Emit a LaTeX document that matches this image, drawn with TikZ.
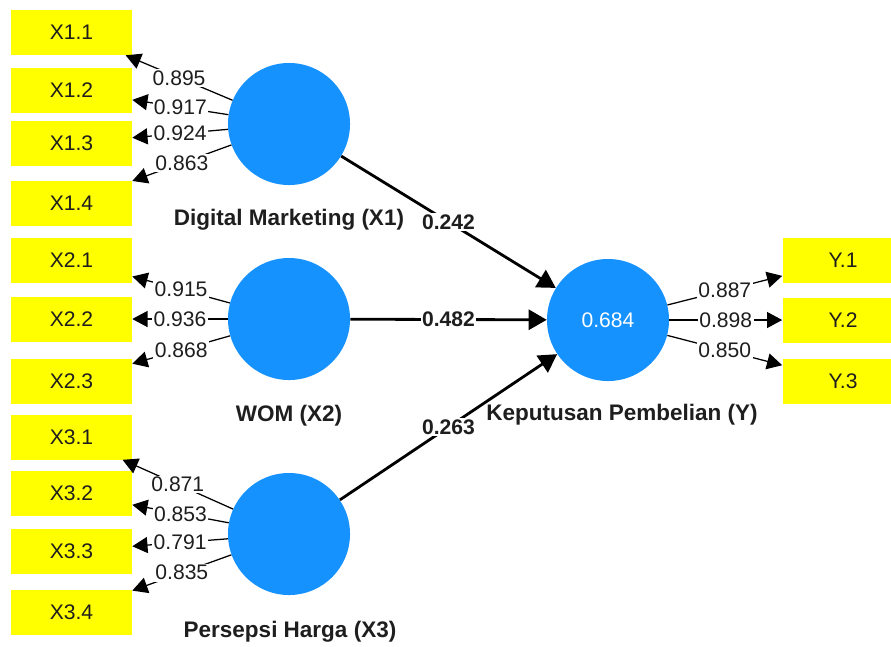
\documentclass[tikz,border=0pt]{standalone}
\usepackage{fontspec}
\setmainfont{Liberation Sans}
\usetikzlibrary{arrows.meta}

\definecolor{lvblue}{RGB}{22,146,255}
\definecolor{mvyellow}{RGB}{255,255,0}
\definecolor{txtdark}{RGB}{30,30,30}

\tikzset{
  lv/.style={circle, fill=lvblue, minimum size=3.05cm, inner sep=0pt, text=white},
  mv/.style={rectangle, fill=mvyellow, minimum width=3.025cm, minimum height=1.125cm, inner sep=0pt},
  lvname/.style={font=\fontsize{16}{19}\selectfont\bfseries},
  loading/.style={line width=0.9pt, -{Triangle[length=0.38cm,width=0.4cm]}},
  structpath/.style={line width=2pt, -{Triangle[length=0.45cm,width=0.5cm]}},
  coef/.style={midway, fill=white, inner sep=1pt},
}

\begin{document}
\begin{tikzpicture}[x=0.025cm, y=-0.025cm, text=txtdark,
  font=\fontsize{15}{18}\selectfont]

  \useasboundingbox (0,0) rectangle (891,646);
  \fill[white] (0,0) rectangle (891,646);

  % latente variabler
  \node[lv] (dm)  at (289,124) {};
  \node[lv] (wom) at (289,319) {};
  \node[lv] (ph)  at (289,534) {};
  \node[lv] (kp)  at (608,320) {0.684};

  \node[lvname] (dmlab)  at (289,220) {Digital Marketing (X1)};
  \node[lvname] (womlab) at (289,416) {WOM (X2)};
  \node[lvname] (phlab)  at (290,632) {Persepsi Harga (X3)};
  \node[lvname] (kplab)  at (622,415) {Keputusan Pembelian (Y)};

  % indikatorer
  \foreach \n/\t/\yy in {x11/X1.1/32.5, x12/X1.2/90.5, x13/X1.3/143, x14/X1.4/203,
                         x21/X2.1/260, x22/X2.2/319, x23/X2.3/381,
                         x31/X3.1/437, x32/X3.2/493.5, x33/X3.3/551, x34/X3.4/612.5}
    \node[mv] (\n) at (71.5,\yy) {\t};

  \foreach \n/\t/\yy in {y1/Y.1/260.5, y2/Y.2/320, y3/Y.3/381}
    \node[mv] (\n) at (843,\yy) {\t};

  % loadings
  \foreach \n/\v in {x11/0.895, x12/0.917, x13/0.924, x14/0.863}
    \draw[loading] (dm) -- (\n) node[coef] {\v};
  \foreach \n/\v in {x21/0.915, x22/0.936, x23/0.868}
    \draw[loading] (wom) -- (\n) node[coef] {\v};
  \foreach \n/\v in {x31/0.871, x32/0.853, x33/0.791, x34/0.835}
    \draw[loading] (ph) -- (\n) node[coef] {\v};
  \foreach \n/\v in {y1/0.887, y2/0.898, y3/0.850}
    \draw[loading] (kp) -- (\n) node[coef] {\v};

  % stikoefficienter
  \draw[structpath] (dm)  -- (kp) node[coef, font=\fontsize{15}{18}\selectfont\bfseries] {0.242};
  \draw[structpath] (wom) -- (kp) node[coef, font=\fontsize{15}{18}\selectfont\bfseries] {0.482};
  \draw[structpath] (ph)  -- (kp) node[coef, font=\fontsize{15}{18}\selectfont\bfseries] {0.263};

\end{tikzpicture}
\end{document}
